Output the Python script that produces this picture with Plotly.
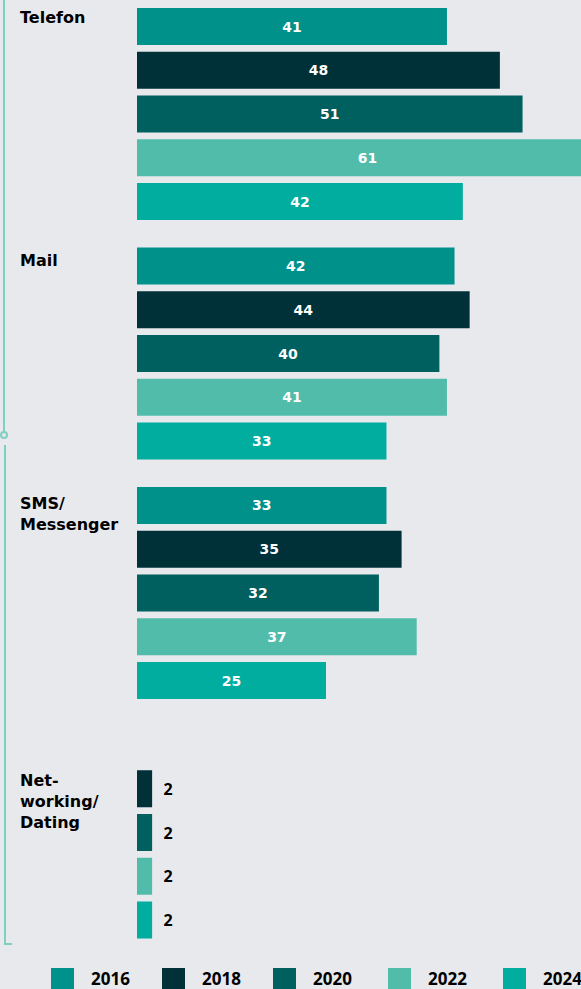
import plotly.graph_objects as go

categories = ["Telefon", "Mail", "SMS/<br>Messenger", "Net-<br>working/<br>Dating"]
years = ["2016", "2018", "2020", "2022", "2024"]
values = {
    "2016": [41, 42, 33, None],
    "2018": [48, 44, 35, 2],
    "2020": [51, 40, 32, 2],
    "2022": [61, 41, 37, 2],
    "2024": [43.1, 33, 25, 2],
}
labels = {
    "2016": ["41", "42", "33", ""],
    "2018": ["48", "44", "35", "2"],
    "2020": ["51", "40", "32", "2"],
    "2022": ["61", "41", "37", "2"],
    "2024": ["42", "33", "25", "2"],
}
colors = {
    "2016": "#00918b",
    "2018": "#003038",
    "2020": "#005f5f",
    "2022": "#52bcab",
    "2024": "#00ad9f",
}

FONT = "Open Sans"
CAT_FONT = "DejaVu Sans"
BG = "#e8e9ed"
LINE = "#7fd0c3"

W, H = 581, 989
L, B = 137, 39
PW, PH = W - L, H - B

fig = go.Figure()
for yr in years:
    vals = values[yr]
    pos = ["inside" if (v is not None and v >= 10) else "outside" for v in vals]
    txt = [t if (v is not None and v >= 10) else ("  " + t if t else "")
           for v, t in zip(vals, labels[yr])]
    fig.add_trace(go.Bar(
        y=categories, x=vals, orientation="h", name=yr,
        marker=dict(color=colors[yr], line=dict(width=0)),
        text=txt, textposition=pos, insidetextanchor="middle",
        insidetextfont=dict(color="white", size=14, family=CAT_FONT, weight="bold"),
        outsidetextfont=dict(color="black", size=16, family=FONT, weight="bold"),
        constraintext="none", cliponaxis=True, showlegend=False,
        hoverinfo="skip",
    ))

px_per_unit = 7.56
fig.update_xaxes(range=[0, PW / px_per_unit], visible=False, fixedrange=True)
fig.update_yaxes(range=[3.4906, -0.476], visible=False, type="category",
                 categoryorder="array", categoryarray=categories)

annotations = []
yshifts = [108, 105, 101.5, 64]
for cat, ys in zip(categories, yshifts):
    annotations.append(dict(
        x=(18 - L) / PW, xref="paper", xanchor="left",
        y=cat, yref="y", yanchor="top", yshift=ys,
        text=cat, showarrow=False, align="left",
        font=dict(size=16, family=CAT_FONT, color="black", weight="bold"),
    ))

shapes = []
def px(x):
    return (x - L) / PW
def py(y):
    return (PH - y) / PH

# legend (custom large swatches)
sw_x = [51, 162, 273, 388, 503]
for yr, sx in zip(years, sw_x):
    shapes.append(dict(type="rect", xref="paper", yref="paper",
                       x0=px(sx), x1=px(sx + 23), y0=py(991), y1=py(968),
                       fillcolor=colors[yr], line=dict(width=0), layer="above"))
    annotations.append(dict(
        x=px(sx + 38), xref="paper", xanchor="left",
        y=py(978), yref="paper", yanchor="middle",
        text=yr, showarrow=False,
        font=dict(size=17, family=FONT, color="black", weight="bold"),
    ))

# left bracket line
shapes.append(dict(type="line", xref="paper", yref="paper",
                   x0=px(4), x1=px(4), y0=py(0), y1=py(431),
                   line=dict(color=LINE, width=2)))
shapes.append(dict(type="circle", xref="paper", yref="paper",
                   x0=px(1), x1=px(7), y0=py(438), y1=py(432),
                   line=dict(color=LINE, width=2), fillcolor="rgba(0,0,0,0)"))
shapes.append(dict(type="line", xref="paper", yref="paper",
                   x0=px(5), x1=px(5), y0=py(445), y1=py(944),
                   line=dict(color=LINE, width=2)))
shapes.append(dict(type="line", xref="paper", yref="paper",
                   x0=px(4), x1=px(12), y0=py(944), y1=py(944),
                   line=dict(color=LINE, width=2)))

fig.update_layout(
    width=W, height=H,
    margin=dict(l=L, r=0, t=0, b=B, pad=0),
    paper_bgcolor=BG, plot_bgcolor=BG,
    barmode="group", bargap=0.0866, bargroupgap=0.154,
    annotations=annotations, shapes=shapes,
    showlegend=False,
    font=dict(family=FONT),
)

fig.write_html("out.html", config={"displayModeBar": False})
